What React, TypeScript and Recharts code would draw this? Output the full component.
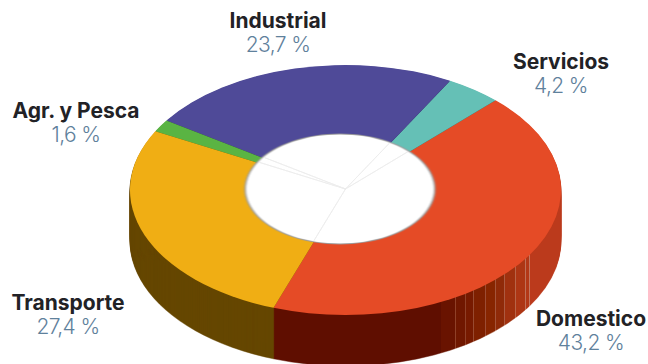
import React from 'react';
import { PieChart, Pie, Cell } from 'recharts';

const categories = ['Domestico', 'Servicios', 'Industrial', 'Agr. y Pesca', 'Transporte'];
const shares = [43.2, 4.2, 23.7, 1.6, 27.4];

const topColors = ['#e54b26', '#65c0b6', '#4f4a98', '#5ab443', '#f0ae14'];
const sideColors = ['url(#rimOrange)', '#1f5d56', '#25224f', '#255a1a', '#654700'];

// where each label sits on the page: [centre x, top y]
const labelSpots = [
  [591, 307],
  [561, 50],
  [278, 9],
  [76, 99],
  [68, 291],
];

// rim shading of the orange slice, left to right
const rimBands: [number, string][] = [
  [441, '#5f0e00'], [455, '#691300'], [456, '#8f4028'], [465, '#701700'], [466, '#8f4028'],
  [473, '#771a00'], [474, '#984a30'], [485, '#7e2000'], [486, '#9c4c34'], [495, '#872500'],
  [496, '#a4543a'], [504, '#8f2a08'], [505, '#ac5a40'], [515, '#a0310f'], [516, '#b86448'],
  [525, '#ad3614'], [526, '#c07058'], [529, '#b33817'], [530, '#c47860'], [561, '#bb3a1c'],
];

const WIDTH = 648;
const HEIGHT = 364;
const SQUASH = 125 / 215.5;
const CX = 345.5;
const CY = 190 / SQUASH;
const SPOKE_CY = 189 / SQUASH;
const RADIUS = 215.5;
const HOLE_X = 340;
const HOLE_R = 95;
const START = 250.5;
const DEPTH_STEPS = 51;

const chartData = categories.map((name, i) => ({ name, value: shares[i] }));
const holeData = [{ name: 'hole', value: 1 }];
const layers = Array.from({ length: DEPTH_STEPS }, (_, i) => DEPTH_STEPS - i);

const rimStart = 441;
const rimEnd = 561;
const pct = (x: number) => `${((x - rimStart) / (rimEnd - rimStart)) * 100}%`;

const App = () => {
  return (
    <div style={{ position: 'absolute', left: 0, top: 0, width: WIDTH, height: HEIGHT, overflow: 'hidden', background: '#fff' }}>
      <div style={{ position: 'absolute', left: 0, top: 0, transform: `scaleY(${SQUASH})`, transformOrigin: '0 0' }}>
        <PieChart width={WIDTH} height={HEIGHT / SQUASH + 40} margin={{ top: 0, right: 0, bottom: 0, left: 0 }}>
          <defs>
            <linearGradient id="rimOrange" gradientUnits="userSpaceOnUse" x1={rimStart} x2={rimEnd} y1={0} y2={0}>
              <stop offset="0%" stopColor="#5f0e00" />
              {rimBands.map(([x, color], i) => (
                <React.Fragment key={i}>
                  <stop offset={pct(i === 0 ? rimStart : rimBands[i - 1][0])} stopColor={color} />
                  <stop offset={pct(x)} stopColor={color} />
                </React.Fragment>
              ))}
            </linearGradient>
            <filter id="holeBlur" x="-5%" y="-5%" width="110%" height="110%">
              <feGaussianBlur stdDeviation="1.2" />
            </filter>
            <clipPath id="holeClip">
              <circle cx={HOLE_X} cy={SPOKE_CY} r={HOLE_R - 2} />
            </clipPath>
          </defs>
          {layers.map((d) => (
            <Pie
              key={d}
              data={chartData}
              dataKey="value"
              cx={CX}
              cy={CY + d / SQUASH}
              outerRadius={RADIUS}
              startAngle={START}
              endAngle={START + 360}
              isAnimationActive={false}
            >
              {chartData.map((_, i) => (
                <Cell key={i} fill={sideColors[i]} stroke={sideColors[i]} strokeWidth={0.6} />
              ))}
            </Pie>
          ))}
          <Pie
            data={chartData}
            dataKey="value"
            cx={CX}
            cy={CY}
            outerRadius={RADIUS}
            startAngle={START}
            endAngle={START + 360}
            stroke="none"
            isAnimationActive={false}
          >
            {chartData.map((_, i) => (
              <Cell key={i} fill={topColors[i]} />
            ))}
          </Pie>
          <Pie
            data={holeData}
            dataKey="value"
            cx={HOLE_X}
            cy={SPOKE_CY}
            outerRadius={HOLE_R + 0.5}
            startAngle={0}
            endAngle={360}
            stroke="none"
            isAnimationActive={false}
          >
            <Cell fill="#9a9a9a" style={{ filter: 'url(#holeBlur)' }} />
          </Pie>
          <Pie
            data={holeData}
            dataKey="value"
            cx={HOLE_X}
            cy={SPOKE_CY}
            outerRadius={HOLE_R - 1}
            startAngle={0}
            endAngle={360}
            stroke="none"
            isAnimationActive={false}
          >
            <Cell fill="#fff" style={{ filter: 'url(#holeBlur)' }} />
          </Pie>
          <Pie
            data={chartData}
            dataKey="value"
            cx={CX}
            cy={SPOKE_CY}
            outerRadius={RADIUS}
            startAngle={START}
            endAngle={START + 360}
            isAnimationActive={false}
          >
            {chartData.map((_, i) => (
              <Cell key={i} fill="none" stroke="#ececec" strokeWidth={1} style={{ clipPath: 'url(#holeClip)' }} />
            ))}
          </Pie>
        </PieChart>
      </div>
      {categories.map((name, i) => (
        <div
          key={name}
          style={{
            position: 'absolute',
            left: labelSpots[i][0] - 100,
            top: labelSpots[i][1],
            width: 200,
            textAlign: 'center',
            fontFamily: 'Inter, sans-serif',
            fontSize: 21,
            lineHeight: '23.5px',
          }}
        >
          <div style={{ fontWeight: 700, color: '#222226' }}>{name}</div>
          <div style={{ fontWeight: 300, color: '#5f819c', letterSpacing: '-0.6px' }}>{String(shares[i]).replace('.', ',')} %</div>
        </div>
      ))}
    </div>
  );
};

export default App;
